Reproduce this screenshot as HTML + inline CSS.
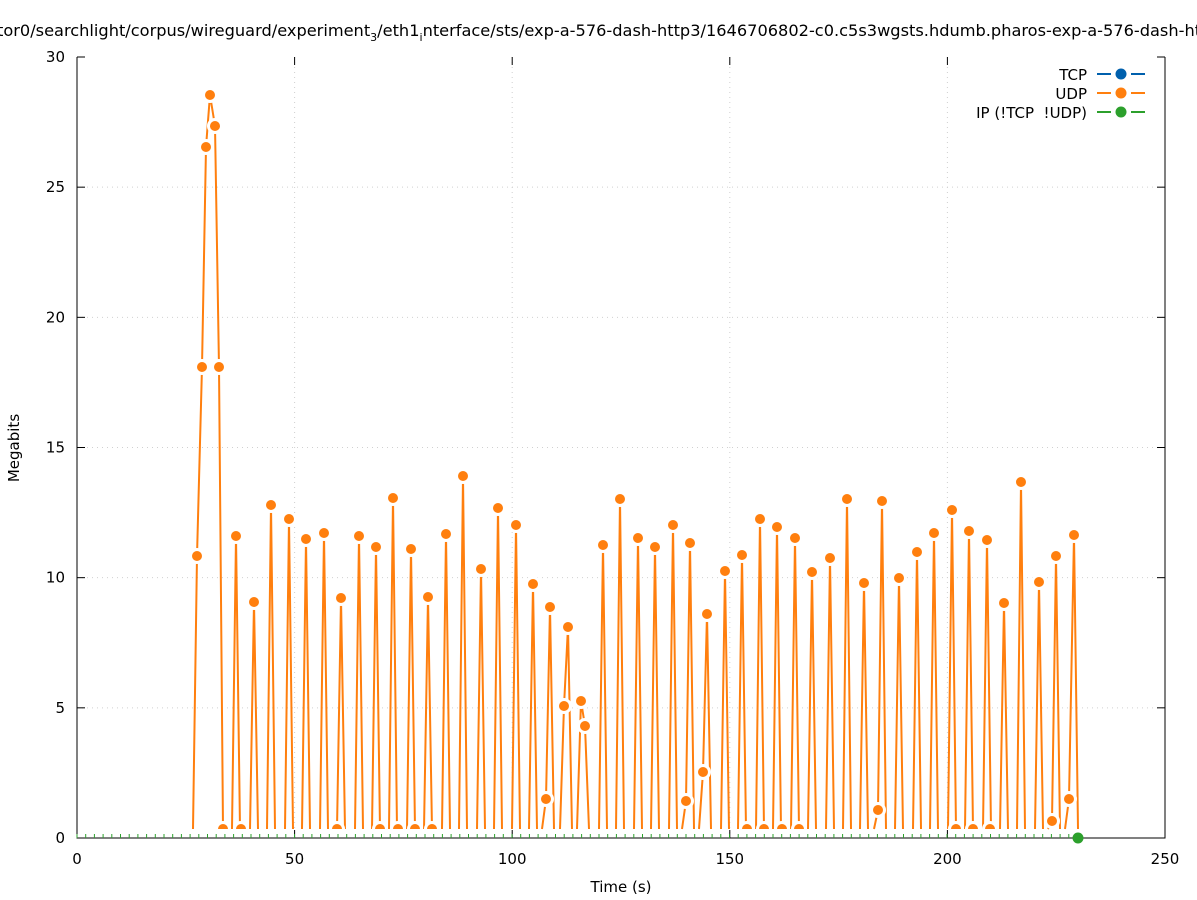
<!DOCTYPE html>
<html><head><meta charset="utf-8"><style>
html,body{margin:0;padding:0;background:#fff;}
svg{display:block;font-family:"DejaVu Sans","Liberation Sans",sans-serif;}
</style></head><body>
<svg id="s" width="1197" height="900" xmlns="http://www.w3.org/2000/svg">
<rect width="1197" height="900" fill="#fff"/>
<text x="-3" y="36" font-size="16.2" fill="#000">tor0/searchlight/corpus/wireguard/experiment<tspan font-size="11" dy="5">3</tspan><tspan dy="-5">/eth1</tspan><tspan font-size="11" dy="5">i</tspan><tspan dy="-5">nterface/sts/exp-a-576-dash-http3/1646706802-c0.c5s3wgsts.hdumb.pharos-exp-a-576-dash-http3</tspan></text>
<g id="grid" stroke="#d0d0d0" stroke-width="1" stroke-dasharray="1,4"></g>
<g id="axes"></g>
<g id="data"></g>
<text x="19" y="448" font-size="15" transform="rotate(-90 19 448)" text-anchor="middle">Megabits</text>
<text x="621" y="892" font-size="15" text-anchor="middle">Time (s)</text>
<g font-size="15" text-anchor="end">
<text x="1087" y="80">TCP</text>
<text x="1087" y="99">UDP</text>
<text x="1087" y="118">IP (!TCP&#160; !UDP)</text>
</g>
<g stroke-width="2">
<line x1="1097" y1="74" x2="1111" y2="74" stroke="#0060ad"/><line x1="1131" y1="74" x2="1145" y2="74" stroke="#0060ad"/><circle cx="1121" cy="74" r="5.5" fill="#0060ad"/>
<line x1="1097" y1="93" x2="1111" y2="93" stroke="#ff7f0e"/><line x1="1131" y1="93" x2="1145" y2="93" stroke="#ff7f0e"/><circle cx="1121" cy="93" r="5.5" fill="#ff7f0e"/>
<line x1="1097" y1="112" x2="1111" y2="112" stroke="#2ca02c"/><line x1="1131" y1="112" x2="1145" y2="112" stroke="#2ca02c"/><circle cx="1121" cy="112" r="5.5" fill="#2ca02c"/>
</g>
</svg>
<script>
const NS="http://www.w3.org/2000/svg";
function el(p,t,a){const e=document.createElementNS(NS,t);for(const k in a)e.setAttribute(k,a[k]);p.appendChild(e);return e;}
const g=document.getElementById('grid'),ax=document.getElementById('axes'),d=document.getElementById('data');
const X0=77,X1=1165,Y0=838,Y1=57;
for(const v of [50,100,150,200]){const x=X0+v*(X1-X0)/250;el(g,'line',{x1:x,y1:Y1,x2:x,y2:Y0});}
for(const v of [5,10,15,20,25]){const y=Y0-v*(Y0-Y1)/30;el(g,'line',{x1:X0,y1:y,x2:X1,y2:y});}
el(ax,'path',{d:`M${X0},${Y1} V${Y0} H${X1} V${Y1}`,fill:'none',stroke:'#000','stroke-width':1});
for(let v=0;v<=250;v+=50){const x=X0+v*(X1-X0)/250;
 el(ax,'line',{x1:x,y1:Y0,x2:x,y2:Y0-8,stroke:'#000'});el(ax,'line',{x1:x,y1:Y1,x2:x,y2:Y1+8,stroke:'#000'});
 const t=el(ax,'text',{x:x,y:864,'font-size':15,'text-anchor':'middle'});t.textContent=v;}
for(let v=0;v<=30;v+=5){const y=Y0-v*(Y0-Y1)/30;
 el(ax,'line',{x1:X0,y1:y,x2:X0+8,y2:y,stroke:'#000'});el(ax,'line',{x1:X1,y1:y,x2:X1-8,y2:y,stroke:'#000'});
 const t=el(ax,'text',{x:65,y:y+5,'font-size':15,'text-anchor':'end'});t.textContent=v;}
for(let x=X0;x<1078;x+=8.7){el(ax,'line',{x1:x,y1:Y0,x2:x,y2:Y0-4,stroke:'#2ca02c'});}
const P=[[197,556],[202,367],[206,147],[210,95],[215,126],[219,367],[236,536],[254,602],[271,505],[289,519],[306,539],[324,533],[341,598],[359,536],[376,547],[393,498],[411,549],[428,597],[446,534],[463,476],[481,569],[498,508],[516,525],[533,584],[546,799],[550,607],[564,706],[568,627],[581,701],[585,726],[603,545],[620,499],[638,538],[655,547],[673,525],[686,801],[690,543],[703,772],[707,614],[725,571],[742,555],[760,519],[777,527],[795,538],[812,572],[830,558],[847,499],[864,583],[878,810],[882,501],[899,578],[917,552],[934,533],[952,510],[969,531],[987,540],[1004,603],[1021,482],[1039,582],[1052,821],[1056,556],[1069,799],[1074,535]];
const Z=829;let path="M193,"+Z;
for(let i=0;i<P.length;i++){const [x,y]=P[i];
 if(i>0){const dx=x-P[i-1][0];if(dx>6&&i>5){path+=" L"+(P[i-1][0]+4)+","+Z+" M"+(x-4)+","+Z;}}
 path+=" L"+x+","+y;}
path+=" L1078,"+Z;
el(d,'path',{d:path,fill:'none',stroke:'#ff7f0e','stroke-width':2,'stroke-linejoin':'round'});
const cg=el(d,'g',{'clip-path':'url(#c)'});
const defs=el(document.getElementById('s'),'defs',{});const cp=el(defs,'clipPath',{id:'c'});el(cp,'rect',{x:0,y:0,width:1197,height:Z});
for(const zx of [223,241,337,380,398,415,432,747,764,782,799,956,973,990])el(cg,'circle',{cx:zx,cy:Z,r:6.5,fill:'#ff7f0e',stroke:'#fff','stroke-width':3});
for(const [x,y] of P)el(d,'circle',{cx:x,cy:y,r:6.5,fill:'#ff7f0e',stroke:'#fff','stroke-width':3});
el(d,'circle',{cx:1078,cy:838,r:5.5,fill:'#2ca02c'});
</script>
</body></html>
